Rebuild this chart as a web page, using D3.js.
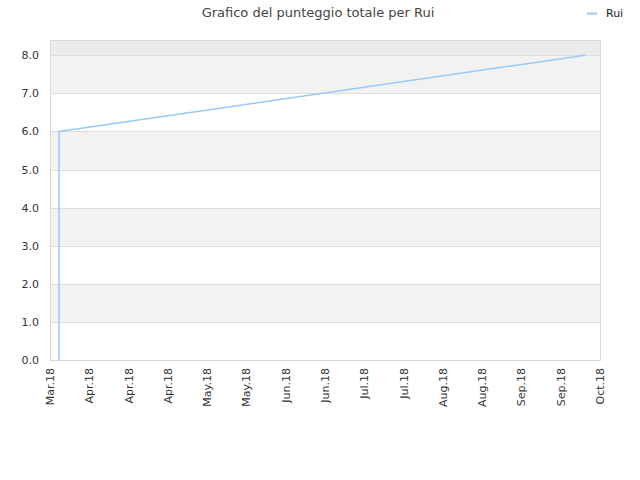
<!DOCTYPE html>
<html>
<head>
<meta charset="utf-8">
<script src="https://cdn.jsdelivr.net/npm/d3@7"></script>
<style>
  body { margin: 0; background: #fff; }
  text { font-family: "DejaVu Sans", sans-serif; }
</style>
</head>
<body>
<svg id="chart" width="640" height="480"></svg>
<script>
// tick labels along the x axis (one per tick)
const xTickLabels = ["Mar.18", "Apr.18", "Apr.18", "Apr.18", "May.18", "May.18", "Jun.18",
  "Jun.18", "Jul.18", "Jul.18", "Aug.18", "Aug.18", "Sep.18", "Sep.18", "Oct.18"];
// position of each point, in tick units from the first tick
const pointPos = [0.23, 0.23, 13.62];
const scores = [0, 6, 8];
const yTicks = [0, 1, 2, 3, 4, 5, 6, 7, 8];
const seriesName = "Rui";

const svg = d3.select("#chart");
const pLeft = 50, pRight = 600, pTop = 40, pBottom = 360;

const x = d3.scaleLinear().domain([0, xTickLabels.length - 1]).range([pLeft, pRight]);
const y = d3.scaleLinear().domain([0, 8.4]).range([pBottom, pTop]);

// background bands
svg.append("rect")
    .attr("x", pLeft).attr("y", pTop)
    .attr("width", pRight - pLeft).attr("height", y(8) - pTop)
    .style("fill", "#ececec");
svg.selectAll(".band")
    .data(yTicks.filter(d => d % 2 === 1))
    .enter().append("rect")
    .attr("class", "band")
    .attr("x", pLeft)
    .attr("y", d => y(d + 1))
    .attr("width", pRight - pLeft)
    .attr("height", d => y(d) - y(d + 1))
    .style("fill", "#f2f2f2");

// grid lines
svg.selectAll(".grid")
    .data(yTicks)
    .enter().append("line")
    .attr("x1", pLeft).attr("x2", pRight)
    .attr("y1", d => Math.round(y(d)) + 0.5).attr("y2", d => Math.round(y(d)) + 0.5)
    .style("stroke", "#dddddd");

// border
svg.append("rect")
    .attr("x", pLeft + 0.5).attr("y", pTop + 0.5)
    .attr("width", pRight - pLeft).attr("height", pBottom - pTop)
    .style("fill", "none").style("stroke", "#d8d8d8");

// y axis labels
svg.selectAll(".ylab")
    .data(yTicks)
    .enter().append("text")
    .attr("x", pLeft - 11)
    .attr("y", d => y(d) + 4)
    .attr("text-anchor", "end")
    .style("font-size", "11px")
    .style("fill", "#333")
    .text(d => d.toFixed(1));

// x axis labels, rotated
svg.selectAll(".xlab")
    .data(xTickLabels)
    .enter().append("text")
    .attr("transform", (d, i) => "translate(" + (x(i) + 4) + "," + (pBottom + 8) + ") rotate(-90)")
    .attr("text-anchor", "end")
    .style("font-size", "11px")
    .style("fill", "#333")
    .text(d => d);

// the line
const line = d3.line()
    .x((d, i) => x(pointPos[i]))
    .y(d => y(d));
svg.append("path")
    .datum(scores)
    .attr("d", line)
    .style("fill", "none")
    .style("stroke", "#99c9f7")
    .style("stroke-width", 1.5);

// title
svg.append("text")
    .attr("x", 318).attr("y", 17)
    .attr("text-anchor", "middle")
    .style("font-size", "13px")
    .style("fill", "#444")
    .text("Grafico del punteggio totale per " + seriesName);

// legend
svg.append("line")
    .attr("x1", 587).attr("x2", 597)
    .attr("y1", 13.5).attr("y2", 13.5)
    .style("stroke", "#99c9f7").style("stroke-width", 2);
svg.append("text")
    .attr("x", 606).attr("y", 17)
    .style("font-size", "11px")
    .style("fill", "#222")
    .text(seriesName);
</script>
</body>
</html>
